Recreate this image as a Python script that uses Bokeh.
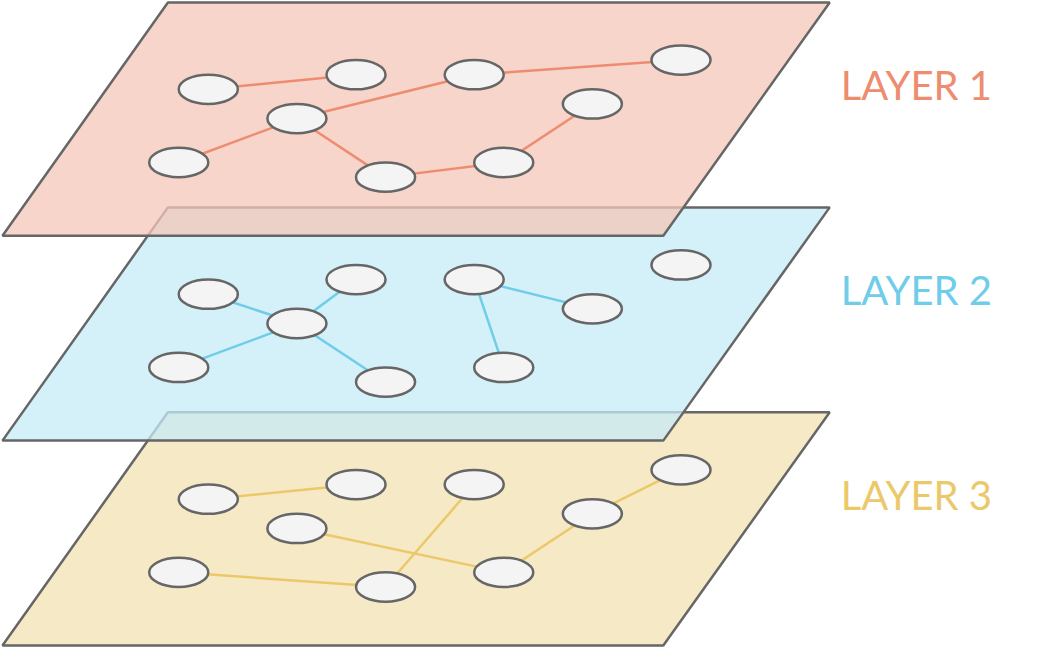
from bokeh.plotting import figure
from bokeh.models import Range1d
from bokeh.embed import file_html
from bokeh.resources import INLINE
from bokeh.core.properties import value

layer_names = ["LAYER 1", "LAYER 2", "LAYER 3"]
layer_offsets = [0, 210, 420]
plane_fill = ["#f4c7b9", "#c5ebf5", "#f3e1b3"]
edge_colors = ["#ee8c6f", "#6fcde9", "#ebc96a"]
node_names = ["A", "B", "C", "D", "E", "F", "G", "H", "I"]
node_x = [211, 361, 481, 691, 301, 601, 181, 391, 511]
node_y = [91, 76, 76, 61, 121, 106, 166, 181, 166]
edges = [
    [("A", "B"), ("E", "C"), ("C", "D"), ("G", "E"), ("E", "H"), ("H", "I"), ("I", "F")],
    [("A", "E"), ("B", "E"), ("G", "E"), ("E", "H"), ("C", "F"), ("C", "I")],
    [("A", "B"), ("E", "I"), ("C", "H"), ("G", "H"), ("I", "F"), ("F", "D")],
]
plane_x = [170, 842, 673, 2]
plane_y = [2, 2, 241, 241]

p = figure(width=1037, height=647, output_backend="svg", toolbar_location=None,
           x_range=Range1d(0, 1053), y_range=Range1d(663, 0), min_border=0)
p.axis.visible = False
p.grid.visible = False
p.outline_line_color = None

pos = {n: (x, y) for n, x, y in zip(node_names, node_x, node_y)}
for i in [2, 1, 0]:
    off = layer_offsets[i]
    p.patch(plane_x, [y + off for y in plane_y], fill_color=plane_fill[i], fill_alpha=0.75,
            line_color="#666666", line_width=2.5)
    xs = [[pos[a][0], pos[b][0]] for a, b in edges[i]]
    ys = [[pos[a][1] + off, pos[b][1] + off] for a, b in edges[i]]
    p.multi_line(xs, ys, line_color=edge_colors[i], line_width=2.5)
    p.ellipse(node_x, [y + off for y in node_y], width=60, height=30,
              fill_color="#f4f4f4", line_color="#666666", line_width=2.5)
    p.text([930], [87 + off], text=[layer_names[i]], text_color=edge_colors[i],
           text_font=value("Lato"), text_font_size="40px", text_align="center",
           text_baseline="middle")

open("out.html", "w").write(file_html(p, INLINE))
